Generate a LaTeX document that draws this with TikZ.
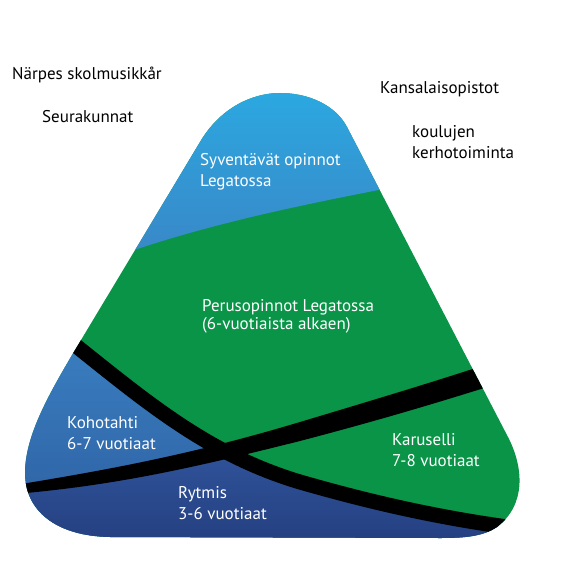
\documentclass[tikz,border=0pt]{standalone}
\usepackage{fontspec}
\setmainfont{PT Sans}
\definecolor{skyA}{HTML}{2BA9E1}
\definecolor{skyB}{HTML}{3A86C6}
\definecolor{legreen}{HTML}{0A9448}
\definecolor{kohoA}{HTML}{3A80C2}
\definecolor{kohoB}{HTML}{2B5A9C}
\definecolor{rytA}{HTML}{30539A}
\definecolor{rytB}{HTML}{243F80}
\newcommand{\rimpath}{(280,93) .. controls (310,93) and (336,106) .. (347,127)
  -- (508,437) .. controls (524,468) and (526,505) .. (497,527)
  .. controls (482,537) and (462,538) .. (440,538)
  -- (110,537) .. controls (55,536) and (25,510) .. (25,473)
  .. controls (25,435) and (50,392) .. (78,345)
  -- (200,142) .. controls (220,108) and (252,93) .. (280,93) -- cycle}
\newcommand{\bandone}{(55,329) -- (75,345) .. controls (150,405) and (210,455) .. (300,482)
  .. controls (380,505) and (450,520) .. (530,530) -- (550,533)}

\begin{document}
\begin{tikzpicture}[x=1pt, y=-1pt,
  lbl/.style={anchor=west, align=left, inner sep=0pt,
              font=\fontsize{17}{21}\selectfont},
  wlbl/.style={lbl, text=white},
  band/.style={line width=15pt}
]
\useasboundingbox (0,0) rectangle (567,567);

\begin{scope}
  \clip \rimpath;
  \fill[legreen] (0,0) rectangle (567,567);
  \shade[top color=skyA, bottom color=skyB]
    (100,85) -- (420,85) -- (420,182) .. controls (300,205) and (200,225) .. (100,262) -- cycle;
  \shade[top color=kohoA, bottom color=kohoB]
    \bandone -- (550,567) -- (0,567) -- (0,329) -- cycle;
  \begin{scope}
    \clip \bandone -- (550,567) -- (0,567) -- (0,329) -- cycle;
    \clip (15,489) .. controls (120,476) and (200,459) .. (300,431)
      .. controls (380,409) and (440,391) .. (500,372) -- (567,372) -- (567,567) -- (0,567) -- cycle;
    \shade[top color=rytA, bottom color=rytB] (0,450) rectangle (567,545);
  \end{scope}
  \fill (15,485) .. controls (120,468) and (200,452) .. (300,422)
    .. controls (380,398) and (440,380) .. (500,360) -- (500,383)
    .. controls (440,402) and (380,420) .. (300,441)
    .. controls (200,466) and (120,485) .. (15,494) -- cycle;
  \draw[band] \bandone;
\end{scope}

\node[lbl] (narpes) at (12,75) {Närpes skolmusikkår};
\node[lbl] (seura) at (42,117) {Seurakunnat};
\node[lbl] (kansa) at (380,89) {Kansalaisopistot};
\node[lbl] (kerho) at (412,142) {koulujen\\kerhotoiminta};
\node[wlbl] (syv) at (200,172) {Syventävät opinnot\\Legatossa};
\node[wlbl, font=\fontsize{17}{18}\selectfont] (perus) at (202,316) {Perusopinnot Legatossa\\(6-vuotiaista alkaen)};
\node[wlbl] (koho) at (67,433) {Kohotahti\\6-7 vuotiaat};
\node[wlbl] (rytmis) at (178,503) {Rytmis\\3-6 vuotiaat};
\node[wlbl] (karu) at (392,450) {Karuselli\\7-8 vuotiaat};
\end{tikzpicture}
\end{document}
